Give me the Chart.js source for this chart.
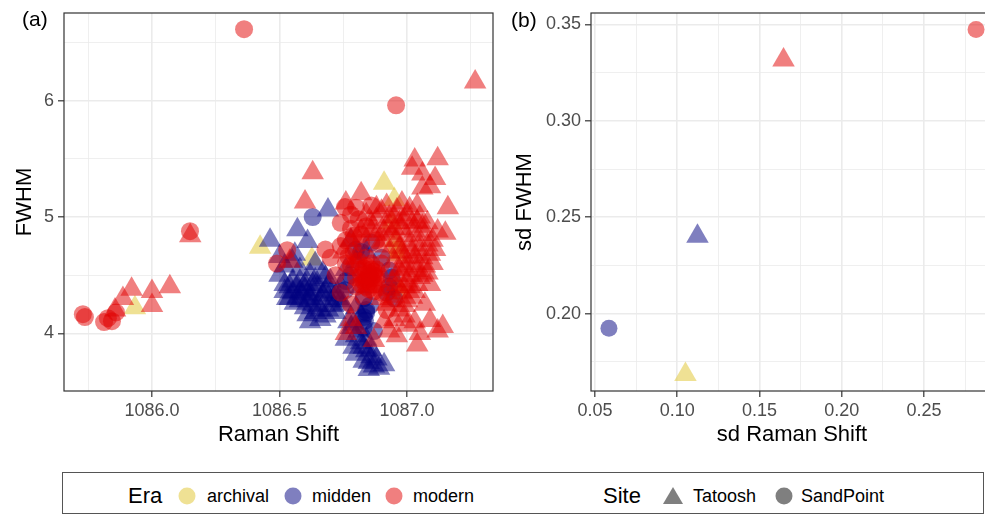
<!DOCTYPE html>
<html>
<head>
<meta charset="utf-8">
<script src="https://cdn.jsdelivr.net/npm/chart.js@4"></script>
<style>
  body { margin: 0; width: 985px; height: 514px; overflow: hidden; background: #fff; font-family: "Liberation Sans", Arial, sans-serif; position: relative; }
  .wrap { position: absolute; top: 0; }
  .tag { position: absolute; font-size: 21px; color: #000; line-height: 1; }
  #legend { position: absolute; left: 62px; top: 472px; width: 922px; height: 42px; border: 1px solid #555; box-sizing: border-box; }
  .lt { position: absolute; top: 496px; transform: translateY(-50%); line-height: 1; color: #000; white-space: nowrap; }
  .big { font-size: 22px; }
  .small { font-size: 18px; }
  .dot { position: absolute; top: 496px; width: 17px; height: 17px; border-radius: 50%; transform: translate(-50%, -50%); }
  .tri { position: absolute; top: 487px; width: 0; height: 0; border-left: 10px solid transparent; border-right: 10px solid transparent; border-bottom: 17px solid #7f7f7f; transform: translateX(-50%); }
</style>
</head>
<body>
<div class="wrap" style="left:0"><canvas id="chartA" width="506" height="455"></canvas></div>
<div class="wrap" style="left:500px"><canvas id="chartB" width="506" height="455"></canvas></div>
<div class="tag" style="left:22px; top:8px">(a)</div>
<div class="tag" style="left:511px; top:9px">(b)</div>

<div id="legend"></div>
<div class="lt big" style="left:128px">Era</div>
<div class="dot" style="left:187px; background: rgba(226,200,60,0.55)"></div>
<div class="lt small" style="left:207px">archival</div>
<div class="dot" style="left:293px; background: rgba(0,0,128,0.5)"></div>
<div class="lt small" style="left:312px">midden</div>
<div class="dot" style="left:394px; background: rgba(225,0,0,0.5)"></div>
<div class="lt small" style="left:413px">modern</div>
<div class="lt big" style="left:603px">Site</div>
<div class="tri" style="left:673px"></div>
<div class="lt small" style="left:693px">Tatoosh</div>
<div class="dot" style="left:784px; background: #7f7f7f"></div>
<div class="lt small" style="left:801px">SandPoint</div>

<script>
// panel (a): Raman Shift vs FWHM, one list per era/site
const archivalTatoosh = [[1086.424,4.74],[1085.933,4.22],[1086.91,5.29],[1086.627,4.64],[1086.95,5.15],[1086.953,4.80],[1086.96,4.68],[1086.965,4.40],[1086.94,4.95]];
const archivalSandPoint = [[1086.96,4.72],[1086.97,4.36]];
const middenTatoosh = [
  [1086.463,4.80],[1086.69,5.06],[1086.57,4.89],[1086.61,4.79],[1086.56,4.68],[1086.5,4.66],[1086.52,4.58],[1086.55,4.62],
  [1086.50,4.50],[1086.52,4.42],[1086.55,4.35],[1086.53,4.30],[1086.58,4.45],[1086.60,4.38],[1086.58,4.28],[1086.62,4.33],
  [1086.63,4.25],[1086.65,4.40],[1086.66,4.30],[1086.68,4.36],[1086.70,4.28],[1086.72,4.33],[1086.69,4.20],[1086.64,4.18],
  [1086.60,4.22],[1086.56,4.26],[1086.66,4.12],[1086.62,4.10],[1086.70,4.45],[1086.74,4.40],[1086.75,4.25],[1086.62,4.50],
  [1086.67,4.52],[1086.58,4.55],[1086.72,4.18],[1086.55,4.45],[1086.64,4.60],
  [1086.52,4.36],[1086.54,4.40],[1086.57,4.31],[1086.59,4.34],[1086.61,4.28],[1086.63,4.37],[1086.65,4.24],[1086.67,4.33],
  [1086.69,4.40],[1086.71,4.24],[1086.73,4.30],[1086.60,4.42],[1086.64,4.46],[1086.68,4.48],[1086.57,4.40],[1086.62,4.30],
  [1086.66,4.20],[1086.70,4.35],[1086.74,4.28],[1086.58,4.36],[1086.63,4.42],[1086.61,4.16],[1086.68,4.15],[1086.54,4.30],
  [1086.78,4.05],[1086.80,3.98],[1086.82,3.92],[1086.79,3.88],[1086.84,3.85],[1086.86,3.80],[1086.83,3.76],[1086.87,3.72],
  [1086.89,3.70],[1086.91,3.73],[1086.85,3.69],[1086.80,3.82],[1086.76,3.95],[1086.88,3.78],[1086.77,4.10],[1086.82,4.15],
  [1086.81,4.02],[1086.84,3.95],[1086.83,3.88],[1086.86,3.86],[1086.85,3.75],[1086.79,4.08],
  [1086.80,4.22],[1086.76,4.55],[1086.80,4.62],[1086.84,4.70],[1086.78,4.80],[1086.82,4.40]
];
const middenSandPoint = [
  [1086.63,5.00],[1086.757,4.37],[1086.855,4.24],[1086.95,4.30],[1086.835,4.11],[1086.93,4.54],[1086.83,4.30],[1086.84,4.18],
  [1086.80,4.72],[1086.86,4.78],[1086.90,4.65],[1086.78,4.50],[1086.93,4.40],[1086.87,4.02],[1086.83,4.05],
  [1086.84,4.20],[1086.83,4.14],[1086.92,4.35],[1086.76,4.45],[1086.82,4.70],[1086.94,4.48]
];
const modernTatoosh = [
  [1087.267,6.16],[1087.03,5.49],[1087.12,5.50],[1087.06,5.37],[1087.11,5.33],[1086.63,5.38],[1086.60,5.13],[1086.15,4.84],
  [1085.92,4.38],[1086.0,4.36],[1086.07,4.40],[1085.886,4.30],[1086.0,4.24],[1085.855,4.20],
  [1087.02,5.42],[1087.06,5.25],[1087.09,5.26],[1087.16,5.08],[1087.15,4.86],[1087.04,5.10],[1086.98,5.12],
  [1086.54,4.62],[1086.76,5.12],[1086.82,5.20],
  [1086.90,5.05],[1086.95,5.00],[1087.00,5.02],[1087.05,5.00],[1087.08,4.95],[1086.92,4.92],[1086.98,4.90],[1087.03,4.88],
  [1087.07,4.85],[1087.10,4.80],[1086.96,4.80],[1087.01,4.76],[1087.05,4.72],[1087.09,4.68],[1086.99,4.65],[1087.03,4.60],
  [1087.07,4.58],[1086.97,4.55],[1087.01,4.50],[1087.05,4.48],[1086.94,4.45],[1086.99,4.40],[1087.03,4.36],[1086.95,4.32],
  [1087.00,4.28],[1086.92,4.25],[1086.97,4.20],[1086.86,4.95],[1086.82,4.88],[1086.78,4.80],[1086.88,4.85],[1086.93,4.70],
  [1086.75,4.70],[1086.80,4.65],
  [1086.93,5.00],[1086.97,4.95],[1087.02,4.95],[1087.06,4.92],[1086.94,4.86],[1087.00,4.84],[1087.04,4.80],[1087.08,4.76],
  [1086.97,4.74],[1087.02,4.70],[1087.06,4.65],[1086.95,4.62],[1087.00,4.58],[1087.04,4.54],[1087.08,4.52],[1086.96,4.50],
  [1087.00,4.45],[1087.04,4.42],[1086.93,4.38],[1086.98,4.35],[1087.02,4.31],[1086.94,4.28],[1086.99,4.24],[1086.90,4.30],
  [1086.88,4.98],[1086.91,4.88],[1086.89,4.75],[1086.86,4.88],[1086.84,5.02],[1087.11,4.72],[1087.12,4.88],[1087.10,4.60],
  [1086.88,5.08],[1086.92,5.10],[1086.96,5.06],[1087.01,5.07],[1086.99,4.98],[1086.95,4.90],[1087.04,4.96],[1086.91,4.80],
  [1086.98,4.70],[1087.03,4.66],[1086.99,4.56],[1087.06,4.50],[1086.96,4.42],[1087.01,4.40],
  [1087.09,4.42],[1087.07,4.25],[1087.03,4.10],[1087.09,4.11],[1087.14,4.06],[1087.12,4.02],[1087.05,4.00],[1086.93,4.02],
  [1086.96,3.98],[1087.04,3.90],[1086.87,3.94],[1086.80,4.05],[1087.00,4.07],[1086.78,4.12],[1086.76,4.00],
  [1086.95,4.12],[1086.99,4.15],[1086.91,4.10]
];
const modernSandPoint = [
  [1086.361,6.614],[1086.957,5.96],[1086.149,4.878],[1085.729,4.165],[1085.737,4.14],[1085.812,4.097],[1085.827,4.131],
  [1085.843,4.105],[1085.859,4.18],[1086.53,4.715],[1086.49,4.60],
  [1086.757,5.085],[1086.80,5.08],[1086.86,5.10],[1086.74,4.95],[1086.78,4.90],[1086.82,4.85],[1086.88,4.80],[1086.74,4.75],
  [1086.79,4.70],[1086.84,4.65],[1086.90,4.60],[1086.76,4.60],[1086.81,4.55],[1086.85,4.52],[1086.88,4.48],[1086.83,4.45],
  [1086.87,4.42],[1086.80,4.40],[1086.85,4.38],[1086.90,4.35],[1086.83,4.32],[1086.87,4.50],[1086.84,4.58],[1086.86,4.47],
  [1086.82,4.50],[1086.88,4.55],[1086.72,4.50],[1086.70,4.65],[1086.78,4.25],[1086.92,4.20],[1086.74,4.35],[1086.68,4.72],
  [1086.85,4.50],[1086.86,4.55],[1086.84,4.46],[1086.87,4.53],[1086.83,4.56],[1086.85,4.44],[1086.88,4.42],[1086.82,4.42],
  [1086.86,4.60],[1086.80,4.48],[1086.89,4.50],[1086.84,4.40],[1086.81,4.62],[1086.87,4.36],[1086.78,4.58],[1086.77,4.66],
  [1086.82,4.78],[1086.79,4.84],[1086.76,4.80],[1086.84,4.92],[1086.81,4.98],[1086.78,5.02]
];

// panel (b): standard deviations per group
const sdArchivalTatoosh = [[0.105,0.1684]];
const sdMiddenTatoosh = [[0.1123,0.2401]];
const sdMiddenSandPoint = [[0.0585,0.1924]];
const sdModernTatoosh = [[0.1646,0.3315]];
const sdModernSandPoint = [[0.2816,0.3474]];

// ticks: grid values (majors carry a label)
const xGridA = [1085.75, 1086.0, 1086.25, 1086.5, 1086.75, 1087.0, 1087.25];
const xMajorA = [1086.0, 1086.5, 1087.0];
const xLabelsA = ['1086.0', '1086.5', '1087.0'];
const yGridA = [4, 4.5, 5, 5.5, 6, 6.5];
const yMajorA = [4, 5, 6];
const yLabelsA = ['4', '5', '6'];
const xGridB = [0.05, 0.075, 0.1, 0.125, 0.15, 0.175, 0.2, 0.225, 0.25, 0.275];
const xMajorB = [0.05, 0.1, 0.15, 0.2, 0.25];
const xLabelsB = ['0.05', '0.10', '0.15', '0.20', '0.25'];
const yGridB = [0.175, 0.2, 0.225, 0.25, 0.275, 0.3, 0.325, 0.35];
const yMajorB = [0.2, 0.25, 0.3, 0.35];
const yLabelsB = ['0.20', '0.25', '0.30', '0.35'];

const YELLOW = 'rgba(226,200,60,0.55)';
const BLUE = 'rgba(0,0,128,0.5)';
const RED = 'rgba(225,0,0,0.5)';
const FONT = '"Liberation Sans", Arial, sans-serif';

function toPts(arr) { return arr.map(p => ({x: p[0], y: p[1]})); }

function ds(arr, color, style, r) {
    return {
        data: toPts(arr),
        backgroundColor: color,
        borderWidth: 0,
        pointStyle: style,
        pointRadius: r,
        pointHoverRadius: r
    };
}

// ggplot-like panel border on all four sides
const boxPlugin = {
    id: 'box',
    afterDraw(chart) {
        const a = chart.chartArea, ctx = chart.ctx;
        ctx.save();
        ctx.strokeStyle = '#333333';
        ctx.lineWidth = 1.2;
        ctx.strokeRect(a.left, a.top, a.right - a.left, a.bottom - a.top);
        ctx.restore();
    }
};

function axis(opts) {
    const isMajor = v => opts.major.some(m => Math.abs(m - v) < 1e-9);
    return {
        type: 'linear',
        min: opts.min,
        max: opts.max,
        afterBuildTicks: s => { s.ticks = opts.grid.map(v => ({value: v})); },
        afterFit: s => {
            if (opts.horizontal) s.height = opts.size; else s.width = opts.size;
            s.paddingTop = 0; s.paddingBottom = 0; s.paddingLeft = 0; s.paddingRight = 0;
        },
        grid: {
            color: '#ebebeb',
            lineWidth: ctx => isMajor(ctx.tick.value) ? 1.6 : 0.8,
            tickColor: ctx => isMajor(ctx.tick.value) ? '#333333' : 'rgba(0,0,0,0)',
            tickLength: 6,
            tickWidth: 1.2,
            drawTicks: true
        },
        border: { display: false },
        ticks: {
            autoSkip: false,
            maxRotation: 0,
            padding: opts.pad,
            color: '#4d4d4d',
            font: { family: FONT, size: 18 },
            callback: v => {
                const i = opts.major.findIndex(m => Math.abs(m - v) < 1e-9);
                return i >= 0 ? opts.labels[i] : '';
            }
        },
        title: {
            display: true,
            text: opts.title,
            color: '#000',
            font: { family: FONT, size: 22 },
            padding: opts.horizontal ? { top: 0, bottom: 7 } : { top: 12, bottom: 0 }
        }
    };
}

// plot box wanted inside each canvas
const AREA_RIGHT = 493;

function makeChart(id, datasets, xs, ys) {
    const chart = new Chart(document.getElementById(id), {
        type: 'scatter',
        data: { datasets: datasets },
        options: {
            responsive: false,
            devicePixelRatio: 1,
            animation: false,
            events: [],
            layout: { padding: { top: 13, right: 7, left: 0, bottom: 0 } },
            plugins: { legend: { display: false }, tooltip: { enabled: false } },
            scales: { x: axis(xs), y: axis(ys) }
        },
        plugins: [boxPlugin]
    });
    // widen or narrow the canvas so the right edge of the plot box lands at AREA_RIGHT
    for (let k = 0; k < 3; k++) {
        const dr = chart.chartArea.right - AREA_RIGHT;
        if (Math.abs(dr) < 0.5) break;
        chart.resize(Math.round(chart.width - dr), 455);
    }
    return chart;
}

makeChart('chartA', [
    ds(modernSandPoint, RED, 'circle', 9),
    ds(modernTatoosh, RED, 'triangle', 13),
    ds(middenSandPoint, BLUE, 'circle', 9),
    ds(middenTatoosh, BLUE, 'triangle', 13),
    ds(archivalSandPoint, YELLOW, 'circle', 9),
    ds(archivalTatoosh, YELLOW, 'triangle', 13)
], {
    min: 1085.655, max: 1087.337, grid: xGridA, major: xMajorA, labels: xLabelsA,
    title: 'Raman Shift', horizontal: true, size: 64, pad: 3
}, {
    min: 3.505, max: 6.753, grid: yGridA, major: yMajorA, labels: yLabelsA,
    title: 'FWHM', horizontal: false, size: 64, pad: 4
});

makeChart('chartB', [
    ds(sdModernSandPoint, RED, 'circle', 8.5),
    ds(sdModernTatoosh, RED, 'triangle', 13),
    ds(sdMiddenSandPoint, BLUE, 'circle', 8.5),
    ds(sdMiddenTatoosh, BLUE, 'triangle', 13),
    ds(sdArchivalTatoosh, YELLOW, 'triangle', 13)
], {
    min: 0.0476, max: 0.2919, grid: xGridB, major: xMajorB, labels: xLabelsB,
    title: 'sd Raman Shift', horizontal: true, size: 64, pad: 3
}, {
    min: 0.1599, max: 0.3559, grid: yGridB, major: yMajorB, labels: yLabelsB,
    title: 'sd FWHM', horizontal: false, size: 91, pad: 4
});
</script>
</body>
</html>
